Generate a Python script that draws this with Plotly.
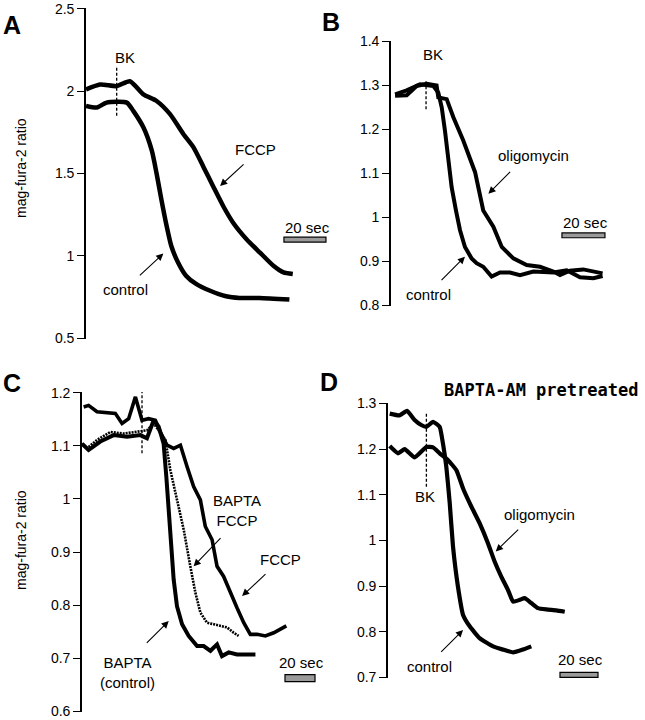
import plotly.graph_objects as go

# ---------------- DATA ----------------
# Panel A (time in s, mag-fura-2 ratio)
a_fccp_t = [0, 6.7, 14.6, 20.9, 27.3, 33.6, 40, 46.3, 51.1, 55.9, 60.6, 65.4, 70.1, 76.5, 82.8, 89.2, 94, 98.4]
a_fccp_v = [2.01, 2.04, 2.03, 2.06, 1.98, 1.94, 1.86, 1.74, 1.66, 1.54, 1.42, 1.30, 1.20, 1.10, 1.02, 0.94, 0.90, 0.89]
a_ctrl_t = [0, 5.1, 9.8, 19.4, 22.5, 27.3, 31.3, 33.6, 35.9, 38.4, 40.6, 43.8, 47.6, 52.4, 58.8, 66.7, 73.0, 82.5, 96.8]
a_ctrl_v = [1.91, 1.90, 1.93, 1.93, 1.88, 1.78, 1.64, 1.50, 1.34, 1.18, 1.06, 0.96, 0.88, 0.83, 0.79, 0.755, 0.745, 0.745, 0.735]

# Panel B
b_oligo_t = [1.9, 7.3, 11.9, 16.6, 21.2, 22.0, 25.9, 29.0, 33.6, 39.1, 42.9, 47.6, 51.5, 56.9, 63.1, 69.3, 75.5, 78.6, 83.2, 89.4, 98.4]
b_oligo_v = [1.277, 1.278, 1.299, 1.304, 1.300, 1.273, 1.269, 1.228, 1.175, 1.103, 1.016, 0.979, 0.933, 0.907, 0.892, 0.888, 0.877, 0.869, 0.879, 0.882, 0.873]
b_ctrl_t = [1.9, 7.3, 13.5, 19.7, 22.0, 23.6, 25.1, 26.7, 28.2, 30.2, 32.1, 34.4, 37.5, 39.8, 42.9, 46.8, 50.7, 55.3, 60.0, 66.2, 75.5, 81.7, 87.9, 94.1, 98.4]
b_ctrl_v = [1.280, 1.289, 1.303, 1.299, 1.284, 1.250, 1.197, 1.137, 1.069, 1.016, 0.971, 0.933, 0.907, 0.896, 0.888, 0.866, 0.875, 0.875, 0.869, 0.877, 0.875, 0.880, 0.864, 0.862, 0.867]

# Panel C
c_fccp_t = [1.1, 4.4, 10.0, 22.2, 26.7, 31.1, 35.6, 40.0, 44.4, 48.9, 52.2, 56.7, 61.1, 65.6, 70.0, 74.4, 78.9, 82.2, 86.7, 90.0, 94.4, 98.9, 103.3, 107.8, 112.2, 116.7, 122.2, 127.8, 136.2]
c_fccp_v = [1.173, 1.176, 1.164, 1.161, 1.142, 1.151, 1.192, 1.148, 1.151, 1.148, 1.126, 1.101, 1.095, 1.101, 1.061, 1.023, 0.998, 0.948, 0.923, 0.873, 0.854, 0.823, 0.795, 0.767, 0.745, 0.745, 0.742, 0.748, 0.761]
c_bfccp_t = [0, 3.3, 10.0, 18.9, 27.8, 36.7, 43.3, 47.8, 51.1, 55.6, 58.9, 63.3, 67.8, 72.2, 75.6, 78.9, 83.3, 87.8, 92.2, 96.7, 101.1, 104.4]
c_bfccp_v = [1.104, 1.095, 1.111, 1.126, 1.123, 1.126, 1.129, 1.142, 1.129, 1.111, 1.054, 0.998, 0.942, 0.873, 0.823, 0.786, 0.767, 0.764, 0.761, 0.758, 0.748, 0.742]
c_bctrl_t = [0, 4.4, 12.2, 21.1, 30.0, 38.9, 43.3, 47.8, 51.1, 54.4, 56.2, 57.8, 59.3, 61.1, 63.3, 66.7, 71.1, 76.7, 81.1, 85.6, 90.0, 93.3, 97.8, 103.3, 115.6]
c_bctrl_v = [1.104, 1.092, 1.108, 1.120, 1.117, 1.120, 1.114, 1.148, 1.136, 1.104, 1.042, 0.979, 0.911, 0.848, 0.798, 0.764, 0.742, 0.723, 0.723, 0.714, 0.726, 0.704, 0.711, 0.707, 0.707]

# Panel D
d_oligo_t = [0.9, 5.3, 8.8, 14.0, 20.2, 23.7, 27.2, 31.6, 36.0, 39.5, 43.9, 48.2, 52.6, 56.1, 59.6, 63.1, 65.8, 69.3, 71.9, 75.4, 78.9, 83.3, 88.6, 93.0]
d_oligo_v = [1.207, 1.191, 1.200, 1.182, 1.205, 1.204, 1.191, 1.176, 1.154, 1.114, 1.074, 1.038, 0.994, 0.954, 0.921, 0.892, 0.866, 0.870, 0.874, 0.863, 0.852, 0.849, 0.847, 0.844]
d_ctrl_t = [0.9, 6.1, 10.0, 14.0, 17.5, 20.2, 23.7, 27.2, 28.9, 30.7, 32.5, 34.2, 36.8, 39.5, 43.0, 48.2, 55.3, 60.5, 65.8, 71.0, 75.4]
d_ctrl_v = [1.278, 1.274, 1.284, 1.264, 1.253, 1.249, 1.260, 1.249, 1.213, 1.161, 1.081, 0.987, 0.899, 0.837, 0.812, 0.786, 0.768, 0.761, 0.755, 0.761, 0.768]

# Tick labels
a_ticks = [0.5, 1, 1.5, 2, 2.5]
a_ticktext = ["0.5", "1", "1.5", "2", "2.5"]
b_ticks = [0.8, 0.9, 1.0, 1.1, 1.2, 1.3, 1.4]
b_ticktext = ["0.8", "0.9", "1", "1.1", "1.2", "1.3", "1.4"]
c_ticks = [0.6, 0.7, 0.8, 0.9, 1.0, 1.1, 1.2]
c_ticktext = ["0.6", "0.7", "0.8", "0.9", "1", "1.1", "1.2"]
d_ticks = [0.7, 0.8, 0.9, 1.0, 1.1, 1.2, 1.3]
d_ticktext = ["0.7", "0.8", "0.9", "1", "1.1", "1.2", "1.3"]

# BK application time per panel (s)
bk_times = [14.6, 16.3, 40.0, 20.2]
scale_sec = 20

# ---------------- FIGURE ----------------
W, H = 645, 720
FONT = "Liberation Sans, Arial, Helvetica, sans-serif"
BLACK = "black"

def px(x):
    return x / W

def py(y):
    return 1 - y / H

fig = go.Figure()

def line(t, v, ax, width=4.2, shape="linear", smoothing=None, dash="solid"):
    kw = dict(color=BLACK, width=width, shape=shape, dash=dash)
    if smoothing is not None:
        kw["smoothing"] = smoothing
    fig.add_trace(go.Scatter(x=t, y=v, mode="lines", line=kw,
                             xaxis="x" + ax, yaxis="y" + ax,
                             showlegend=False, hoverinfo="skip"))

line(a_fccp_t, a_fccp_v, "", 4.5, "spline", 0.6)
line(a_ctrl_t, a_ctrl_v, "", 4.5, "spline", 0.6)
line(b_oligo_t, b_oligo_v, "2", 4.0)
line(b_ctrl_t, b_ctrl_v, "2", 4.0)
line(c_fccp_t, c_fccp_v, "3", 3.6)
line(c_bfccp_t, c_bfccp_v, "3", 2.6, dash="2px,1px")
line(c_bctrl_t, c_bctrl_v, "3", 4.0)
line(d_oligo_t, d_oligo_v, "4", 4.2, "spline", 0.4)
line(d_ctrl_t, d_ctrl_v, "4", 4.2, "spline", 0.4)

# axes: (x domain px, y top px, y bottom px, yrange, x max seconds, ticks)
panels = [
    ("", (86, 335), (8, 339), (0.5, 2.5), 118.5, a_ticks, a_ticktext),
    ("2", (391, 640), (41, 306), (0.8, 1.4), 115.8, b_ticks, b_ticktext),
    ("3", (82, 330), (392, 712), (0.6, 1.2), 165.3, c_ticks, c_ticktext),
    ("4", (388, 640), (403, 678), (0.7, 1.3), 132.6, d_ticks, d_ticktext),
]

layout = dict(width=W, height=H, margin=dict(l=0, r=0, t=0, b=0, autoexpand=False),
              paper_bgcolor="white", plot_bgcolor="rgba(0,0,0,0)",
              font=dict(family=FONT, color=BLACK, size=14))
for ax, (x0, x1), (yt, yb), yr, xmax, tv, tt in panels:
    pad = (yr[1] - yr[0]) * 0.002
    layout["xaxis" + ax] = dict(domain=[px(x0), px(x1)], range=[0, xmax], visible=False,
                                anchor="y" + ax, automargin=False)
    layout["yaxis" + ax] = dict(domain=[py(yb), py(yt)], range=[yr[0] - pad, yr[1] + pad],
                                anchor="x" + ax, automargin=False,
                                showgrid=False, zeroline=False, showline=True,
                                linecolor=BLACK, linewidth=1.6, ticks="outside",
                                ticklen=7, tickwidth=1.4, tickcolor=BLACK,
                                tickvals=tv, ticktext=tt,
                                tickfont=dict(family=FONT, size=14, color=BLACK))
fig.update_layout(**layout)

shapes = []
annots = []

def xr(ax):
    return "x" + ax

def yr_(ax):
    return "y" + ax

# BK dashed lines and labels
bk_spec = [
    ("", (1.85, 2.15), (18.6, 2.205)),
    ("2", (1.246, 1.311), (19.7, 1.371)),
    ("3", (1.086, 1.207), (40.0, 1.232)),
    ("4", (1.118, 1.278), (19.3, 1.096)),
]
for (ax, (y0, y1), (lx, ly)), bt in zip(bk_spec, bk_times):
    shapes.append(dict(type="line", xref=xr(ax), yref=yr_(ax), x0=bt, x1=bt, y0=y0, y1=y1,
                       line=dict(color=BLACK, width=1.3, dash="3px,2px")))
    annots.append(dict(xref=xr(ax), yref=yr_(ax), x=lx, y=ly, text="BK", showarrow=False,
                       font=dict(size=15)))

# scale bars: (axis, start, y0, y1, text y)
bars = [
    ("", 94.2, 1.084, 1.114, 1.175),
    ("2", 79.5, 0.954, 0.965, 0.988),
    ("3", 135.3, 0.656, 0.669, 0.692),
    ("4", 90.5, 0.700, 0.711, 0.739),
]
for ax, x0, y0, y1, ty in bars:
    shapes.append(dict(type="rect", xref=xr(ax), yref=yr_(ax), x0=x0, x1=x0 + scale_sec,
                       y0=y0, y1=y1, fillcolor="#9a9a9a", line=dict(color=BLACK, width=1.2)))
    annots.append(dict(xref=xr(ax), yref=yr_(ax), x=x0 + scale_sec / 2 + 1, y=ty,
                       text="20 sec", showarrow=False, font=dict(size=15)))

# curve labels: (axis, text, label x, label y, tail x, tail y, head x, head y)
labels = [
    ("", "FCCP", 80.5, 1.644, 75.7, 1.564, 63.8, 1.424),
    ("", "control", 18.6, 0.794, 24.9, 0.874, 36.8, 1.014),
    ("2", "oligomycin", 66.2, 1.141, 56.1, 1.107, 45.3, 1.054),
    ("2", "control", 17.4, 0.824, 22.8, 0.854, 34.4, 0.911),
    ("3", "BAPTA<br>FCCP", 103.3, 0.979, 93.3, 0.929, 74.4, 0.873),
    ("3", "FCCP", 132.2, 0.886, 123.3, 0.861, 106.7, 0.817),
    ("3", "BAPTA<br>(control)", 30.0, 0.673, 42.2, 0.726, 57.8, 0.770),
    ("4", "oligomycin", 79.8, 1.056, 69.3, 1.027, 56.7, 0.976),
    ("4", "control", 21.9, 0.724, 27.2, 0.753, 39.5, 0.804),
]
for ax, txt, lx, ly, tx, ty, hx, hy in labels:
    annots.append(dict(xref=xr(ax), yref=yr_(ax), x=lx, y=ly, text=txt, showarrow=False,
                       font=dict(size=15)))
    annots.append(dict(xref=xr(ax), yref=yr_(ax), x=hx, y=hy, ax=tx, ay=ty,
                       axref=xr(ax), ayref=yr_(ax), text="", showarrow=True,
                       arrowhead=2, arrowsize=1.3, arrowwidth=1.1, arrowcolor=BLACK,
                       standoff=0, startstandoff=0))

# panel letters
for letter, (lx, ly) in zip(["A", "B", "C", "D"], [(12, 25), (331, 22), (12, 383), (329, 382)]):
    annots.append(dict(xref="paper", yref="paper", x=px(lx), y=py(ly), text="<b>%s</b>" % letter,
                       xanchor="center", yanchor="middle",
                       showarrow=False, font=dict(size=25, family=FONT)))

# y-axis titles
for (lx, ly) in [(21, 168), (21, 540)]:
    annots.append(dict(xref="paper", yref="paper", x=px(lx), y=py(ly), text="mag-fura-2 ratio",
                       xanchor="center", yanchor="middle",
                       textangle=-90, showarrow=False, font=dict(size=14)))

# panel D title
annots.append(dict(xref="paper", yref="paper", x=px(541), y=py(390), text="<b>BAPTA-AM pretreated</b>",
                   xanchor="center", yanchor="middle",
                   showarrow=False, font=dict(size=17, family="DejaVu Sans Mono, monospace")))

fig.update_layout(shapes=shapes, annotations=annots)
fig.write_html("out.html", config={"displayModeBar": False},
               post_script="document.body.style.margin='0px';")
